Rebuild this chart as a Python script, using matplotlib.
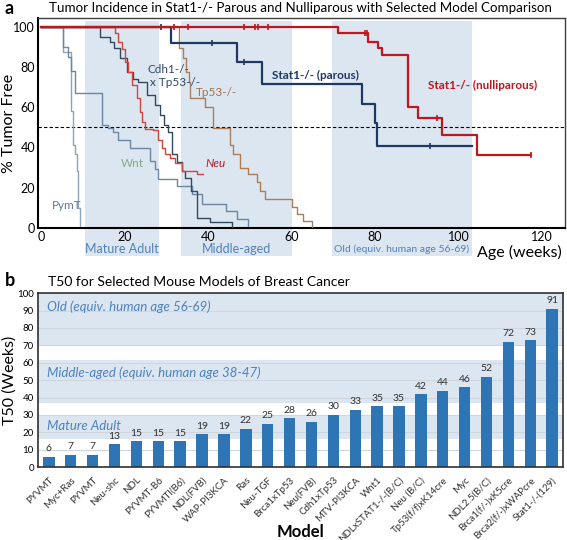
import matplotlib.pyplot as plt
import matplotlib.patches as mpatches

plt.rcParams['font.family'] = ['Lato', 'DejaVu Sans']

# ---- panel a: Kaplan-Meier style curves (weeks, % tumor free) ----
pymt_t = [0, 5.3, 7.1, 7.7, 8.1, 8.5, 8.9, 9.3]
pymt_v = [100, 87.5, 58, 41, 37, 28.5, 10, 0]

wnt_t = [0, 5.3, 6.5, 7.2, 8.0, 14.5, 16.1, 17.3, 18.5, 21.3, 26.1, 27.3, 27.9,
         32.5, 36.2, 38.6, 44.3, 46.9, 49.6]
wnt_v = [100, 90, 85, 78, 67, 51, 49.5, 47.5, 43.5, 39.5, 33.5, 29.5, 24.5,
         21, 17, 12, 8.5, 4.5, 0]

cdh1_t = [0, 14.1, 16.5, 17.5, 18.9, 20.5, 22.0, 23.2, 25.3, 27.3, 28.5, 29.3,
          30.4, 31.3, 32.5, 33.7, 34.5, 36.0, 37.3, 40.5, 45.7]
cdh1_v = [100, 95, 92.7, 89.5, 84.5, 77.7, 74, 72.7, 66, 61, 56, 51,
          47.7, 37, 33, 28.5, 25, 18.5, 5, 3, 0]

neu_t = [0, 17.7, 18.3, 19.3, 20.1, 20.9, 21.7, 22.9, 23.7, 24.1, 24.9, 26.8,
         28.0, 29.0, 29.7, 30.9, 32.1, 33.8, 37.3, 38.7]
neu_v = [100, 97, 92.7, 89, 82.7, 77.7, 71, 64.5, 57.7, 52.7, 49.3, 48.5,
         43.5, 39.5, 37, 35, 32.5, 28.5, 27, 27]

tp53_t = [0, 33.0, 34.0, 34.7, 35.3, 35.7, 39.3, 41.2, 45.3, 46.0, 47.7, 49.6,
          51.7, 52.5, 53.7, 60.1, 61.3, 62.7, 64.8]
tp53_v = [100, 89.5, 84.5, 77.7, 72.7, 64.5, 60, 49.5, 41, 37, 30, 27,
          22.7, 18.5, 14.5, 10.5, 7, 3.5, 0]

parous_t = [0, 31.0, 46.9, 52.9, 76.8, 80.0, 80.5, 103.2]
parous_v = [100, 91.8, 82.7, 71.8, 61.5, 52, 40.5, 40.5]
parous_cens_t = [28.7, 40.9, 48.6, 93.2]
parous_cens_v = [100, 91.8, 82.7, 40.5]

nulli_t = [0, 71.2, 78.4, 80.8, 81.6, 88.0, 90.2, 96.0, 104.4, 117.5]
nulli_v = [100, 97, 92.7, 89.3, 86, 60, 54.8, 46, 36.5, 36.5]
nulli_cens_t = [31.9, 35.1, 48.5, 51.3, 52.0, 54.4, 77.6, 78.2, 94.8, 117.5]
nulli_cens_v = [100, 100, 100, 100, 100, 100, 97, 97, 54.8, 36.5]

age_bands_a = [(10.5, 28.3, 'Mature Adult'), (33.5, 60.1, 'Middle-aged'),
               (69.7, 103.2, 'Old (equiv. human age 56-69)')]

# ---- panel b: T50 bars ----
models = ['PYVMT', 'Myc+Ras', 'PYVMT', 'Neu-shc', 'NDL', 'PYVMT-B6', 'PYVMTI(B6)',
          'NDL(FVB)', 'WAP-PI3KCA', 'Ras', 'Neu-TGF', 'Brca1xTp53', 'Neu(FVB)',
          'Cdh1xTp53', 'MTV-PI3KCA', 'Wnt1', 'NDLxSTAT1-/-(B/C)', 'Neu (B/C)',
          'Tp53(f/f)xK14cre', 'Myc', 'NDL2.5(B/C)', 'Brca1(f/-)xK5cre',
          'Brca2(f/-)xWAPcre', 'Stat1-/-(129)']
t50 = [6, 7, 7, 13, 15, 15, 15, 19, 19, 22, 25, 28, 26, 30, 33, 35, 35, 42, 44,
       46, 52, 72, 73, 91]
age_bands_b = [(16, 30, 'Mature Adult', 23.5),
               (37, 61.5, 'Middle-aged (equiv. human age 38-47)', 54.5),
               (70, 100, 'Old (equiv. human age 56-69)', 92)]

band_col = '#dce6f1'
label_col = '#4f81bd'

fig = plt.figure(figsize=(5.67, 5.40), dpi=100)

# ================= panel a =================
ax = fig.add_axes([0.067, 0.578, 0.929, 0.389])
ax.set_xlim(-0.8, 125.5)
ax.set_ylim(0, 104.5)
xt = ax.get_xaxis_transform()
for x0, x1, name in age_bands_a:
    ax.add_patch(mpatches.Rectangle((x0, -0.133), x1 - x0, 1.118, transform=xt,
                                    color=band_col, lw=0, zorder=0, clip_on=False))
    ax.text((x0 + x1) / 2, -0.1, name, transform=xt, ha='center', va='center',
            color=label_col, fontsize=9 if len(name) < 15 else 7.5)

ax.axhline(50, color='black', lw=0.8, ls=(0, (3, 2)), zorder=1)

ax.step(pymt_t, pymt_v, where='post', color='#8ea4b8', lw=1.0, zorder=2)
ax.step(wnt_t, wnt_v, where='post', color='#6b87a3', lw=1.0, zorder=2)
ax.step(cdh1_t, cdh1_v, where='post', color='#34495e', lw=1.0, zorder=3)
ax.step(neu_t, neu_v, where='post', color='#d0453f', lw=1.0, zorder=3)
ax.step(tp53_t, tp53_v, where='post', color='#a97c5a', lw=1.0, zorder=3)
ax.step(parous_t, parous_v, where='post', color='#1f3864', lw=1.6, zorder=4)
ax.step(nulli_t, nulli_v, where='post', color='#c0161d', lw=1.6, zorder=5)
ax.plot(parous_cens_t, parous_cens_v, ls='none', marker='|', ms=5, mew=1.2,
        color='#1f3864', zorder=4)
ax.plot(nulli_cens_t, nulli_cens_v, ls='none', marker='|', ms=5, mew=1.2,
        color='#c0161d', zorder=5)

ax.text(25.4, 75.5, 'Cdh1-/-\n x Tp53-/-', color='#2f4a6b', fontsize=8.5,
        va='center', linespacing=1.15)
ax.text(37.0, 67.5, 'Tp53-/-', color='#a0724e', fontsize=8.5, va='center')
ax.text(55.3, 76, 'Stat1-/- (parous)', color='#1f3864', fontsize=8.5,
        fontweight='bold', va='center')
ax.text(92.7, 71, 'Stat1-/- (nulliparous)', color='#c0161d', fontsize=8.5,
        fontweight='bold', va='center')
ax.text(39.3, 32, 'Neu', color='#c0161d', fontsize=8.5, style='italic', va='center')
ax.text(19.0, 32, 'Wnt', color='#8aa88a', fontsize=8.5, va='center')
ax.text(2.6, 11, 'PymT', color='#5a7a99', fontsize=8.5, va='center')

ax.set_xticks(range(0, 121, 20))
ax.set_yticks(range(0, 101, 20))
ax.tick_params(length=0, labelsize=9, pad=2)
ax.text(104.4, -0.115, 'Age (weeks)', transform=xt, fontsize=11.5, va='center')
for s in ['left', 'bottom']:
    ax.spines[s].set_linewidth(1.5)
for s in ['top', 'right']:
    ax.spines[s].set_linewidth(1.0)
    ax.spines[s].set_color('#404040')
fig.text(0.53, 0.985, 'Tumor Incidence in Stat1-/- Parous and Nulliparous with Selected Model Comparison',
         fontsize=9.6, ha='center', va='center')
fig.text(0.008, 0.985, 'a', fontsize=13, fontweight='bold', va='center')
fig.text(0.016, 0.772, '% Tumor Free', fontsize=11.5, rotation=90,
         ha='center', va='center')

# ================= panel b =================
bx = fig.add_axes([0.067, 0.135, 0.926, 0.322])
xs = list(range(len(models)))
for y0, y1, name, ty in age_bands_b:
    bx.axhspan(y0, y1, color=band_col, lw=0, zorder=0)
    bx.text(-0.1, ty, name, color=label_col, fontsize=9.5, style='italic',
            va='center')
for g in range(10, 100, 10):
    bx.axhline(g, color='#cfd6de', lw=0.8, zorder=0.5)
bx.bar(xs, t50, width=0.52, color='#2e75b6', zorder=2)
for x, v in zip(xs, t50):
    bx.annotate(str(v), (x, v), xytext=(0, 2.5), textcoords='offset points',
                ha='center', va='bottom', fontsize=7.5, color='#303030')
bx.set_xlim(-0.5, len(models) - 0.5)
bx.set_ylim(0, 100)
bx.set_yticks(range(0, 101, 10))
bx.set_xticks(xs)
bx.set_xticklabels(models, rotation=45, ha='right', rotation_mode='anchor',
                   fontsize=7.3, color='#303030')
bx.tick_params(length=0, labelsize=7, pad=3)
bx.tick_params(axis='x', pad=6)
for s in bx.spines.values():
    s.set_linewidth(1.2)
    s.set_color('#303030')
fig.text(0.53, 0.014, 'Model', fontsize=12, fontweight='bold',
         ha='center', va='center')
fig.text(0.016, 0.296, 'T50 (Weeks)', fontsize=11.5, rotation=90,
         ha='center', va='center')
fig.text(0.085, 0.478, 'T50 for Selected Mouse Models of Breast Cancer',
         fontsize=10, va='center')
fig.text(0.008, 0.481, 'b', fontsize=13, fontweight='bold', va='center')

fig.savefig('out.png', dpi=100)
